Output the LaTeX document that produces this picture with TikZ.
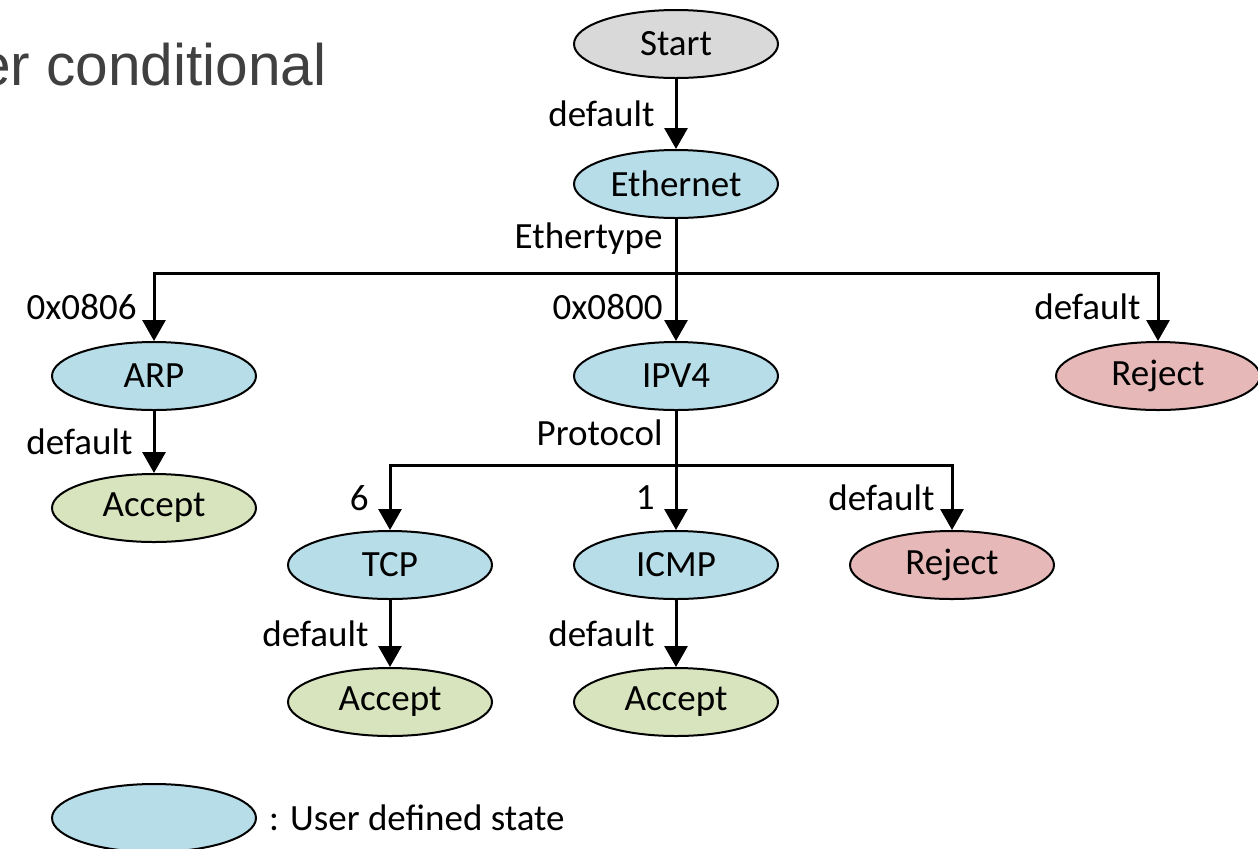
\documentclass[tikz,border=0pt]{standalone}
\usepackage{fontspec}
\setmainfont{Carlito}
\newfontfamily\titlefont{Liberation Sans}
\usetikzlibrary{shapes.geometric,arrows.meta}
\definecolor{startgray}{HTML}{D9D9D9}
\definecolor{userblue}{HTML}{B7DDE8}
\definecolor{acceptgreen}{HTML}{D7E4BD}
\definecolor{rejectred}{HTML}{E6B9B8}
\definecolor{titlegray}{HTML}{404040}
\tikzset{
  state/.style={ellipse,draw,line width=1pt,minimum width=102pt,minimum height=34pt,inner sep=0pt},
  wire/.style={line width=1.5pt},
  lbl/.style={inner sep=0pt,text depth=0pt,left=#1},
  lbl/.default=10pt
}
\begin{document}
\begin{tikzpicture}[x=0.5pt,y=-0.5pt,font=\fontsize{18.5}{22}\selectfont,>={Triangle[width=11.5pt,length=10.5pt]}]
  \useasboundingbox (0,0) rectangle (1258,848);
  \clip (0,0) rectangle (1258,848);
  \node[anchor=base east,inner sep=0pt,text=titlegray,font=\titlefont\fontsize{29.3}{34}\selectfont] (title) at (327,85) {er conditional};
  % states
  \foreach \n/\x/\y/\c/\t in {start/676/44/startgray/Start, eth/676/184/userblue/Ethernet,
      arp/154/376/userblue/ARP, ipv4/676/376/userblue/IPV4, rej1/1158/376/rejectred/Reject,
      acc1/154/508/acceptgreen/Accept, tcp/390/565/userblue/TCP, icmp/676/565/userblue/ICMP,
      rej2/952/565/rejectred/Reject, acc2/390/702/acceptgreen/Accept, acc3/676/702/acceptgreen/Accept}
    \node[state,fill=\c] (\n) at (\x,\y) {\t};
  \coordinate (j1) at (676,273);
  \coordinate (j2) at (676,465);
  % transitions
  \draw[wire,->] (start) -- node[lbl]{default} (eth);
  \draw[wire] (eth) -- node[lbl=6pt,pos=.3]{Ethertype} (j1);
  \draw[wire,->] (j1) -| node[lbl=8pt,pos=.75]{0x0806} (arp);
  \draw[wire,->] (j1) -- node[lbl=6pt]{0x0800} (ipv4);
  \draw[wire,->] (j1) -| node[lbl=8pt,pos=.75]{default} (rej1);
  \draw[wire,->] (arp) -- node[lbl]{default} (acc1);
  \draw[wire] (ipv4) -- node[lbl=6pt,pos=.4]{Protocol} (j2);
  \draw[wire,->] (j2) -| node[lbl,pos=.75]{6} (tcp);
  \draw[wire,->] (j2) -- node[lbl]{1} (icmp);
  \draw[wire,->] (j2) -| node[lbl=8pt,pos=.75]{default} (rej2);
  \draw[wire,->] (tcp) -- node[lbl]{default} (acc2);
  \draw[wire,->] (icmp) -- node[lbl]{default} (acc3);
  % legend
  \node[state,fill=userblue] (key) at (154,818) {};
  \node[anchor=west] (keytext) at (262,818) {: User defined state};
\end{tikzpicture}
\end{document}
